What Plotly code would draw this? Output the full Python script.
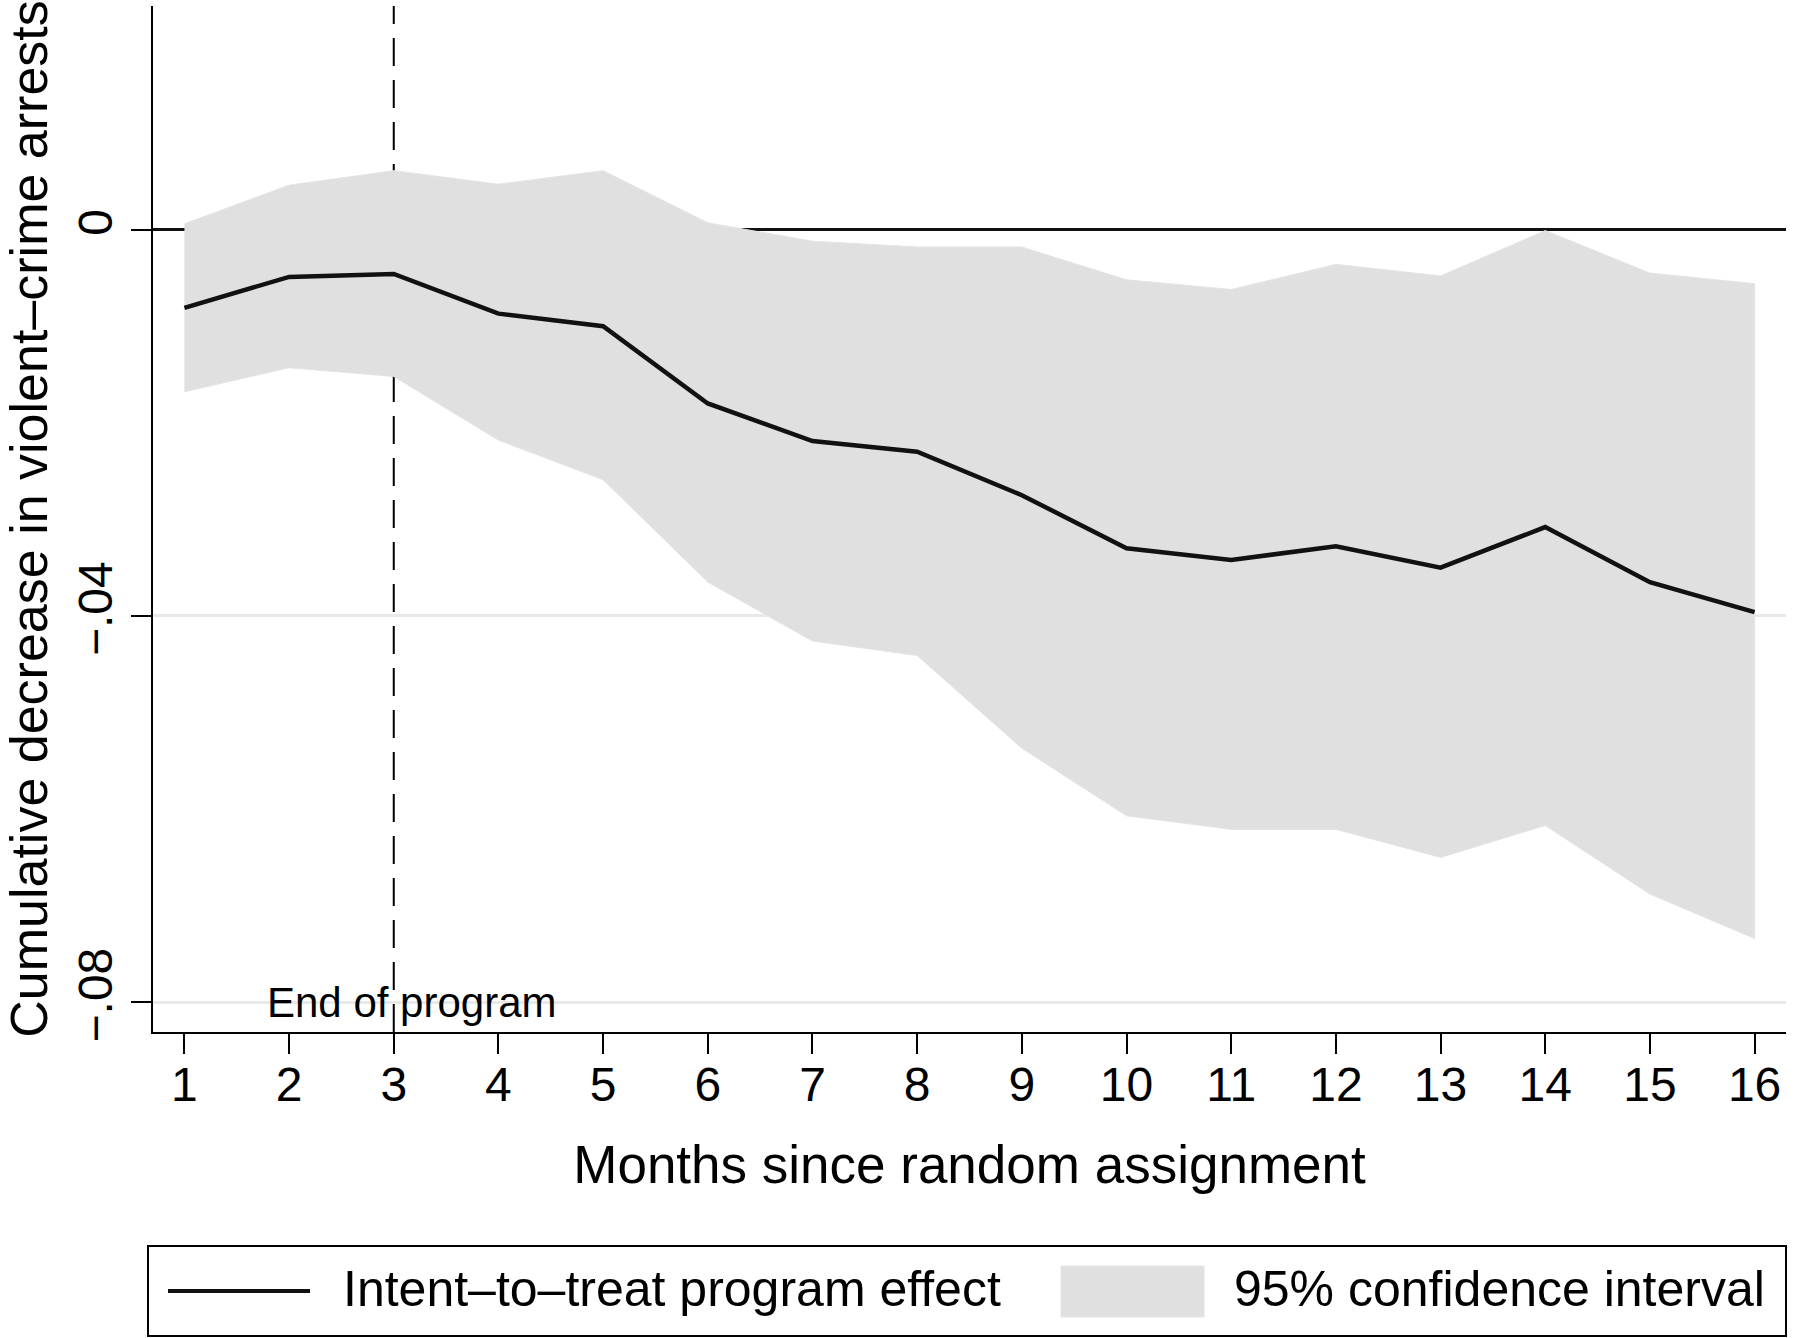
import plotly.graph_objects as go

months = list(range(1, 17))
effect = [-0.0081, -0.0049, -0.0046, -0.0087, -0.0100, -0.0180, -0.0219, -0.0230,
          -0.0275, -0.0330, -0.0342, -0.0328, -0.0350, -0.0308, -0.0365, -0.0396]
ci_upper = [0.0006, 0.0046, 0.0061, 0.0047, 0.0061, 0.0007, -0.0012, -0.0018,
            -0.0018, -0.0052, -0.0062, -0.0036, -0.0048, -0.0001, -0.0045, -0.0056]
ci_lower = [-0.0168, -0.0143, -0.0152, -0.0218, -0.0259, -0.0365, -0.0426, -0.0441,
            -0.0537, -0.0607, -0.0621, -0.0621, -0.0650, -0.0617, -0.0688, -0.0734]
y_tickvals = [0, -0.04, -0.08]
y_ticktext = ["0", "\u2212.04", "\u2212.08"]
program_end_month = 3

FONT = "Liberation Sans, Arial, Helvetica, sans-serif"
FILL = "#e0e0e0"

fig = go.Figure()
fig.add_trace(go.Scatter(
    x=months + months[::-1],
    y=ci_upper + ci_lower[::-1],
    fill="toself", fillcolor=FILL,
    line=dict(color="#e4e4e4", width=1),
    mode="lines", name="95% confidence interval", hoverinfo="skip",
))
fig.add_trace(go.Scatter(
    x=months, y=effect, mode="lines",
    line=dict(color="#111111", width=4.5),
    name="Intent\u2013to\u2013treat program effect",
))

# dashed vertical line at end of program (under traces)
fig.add_shape(type="line", xref="x", yref="paper", x0=program_end_month, x1=program_end_month,
              y0=0, y1=1, layer="below", line=dict(color="black", width=2, dash="28px,14px"))

fig.add_annotation(x=1.766, y=-0.08, xref="x", yref="y", text="End of program",
                   showarrow=False, xanchor="left", yanchor="middle",
                   font=dict(family=FONT, size=42, color="black"))

# manual legend (paper coords)
L, R, T, B = 153, 1786, 6, 1032
def px(xp):
    return (xp - L) / (R - L)
def py(yp):
    return (B - yp) / (B - T)

fig.add_shape(type="rect", xref="paper", yref="paper", x0=px(148), x1=px(1786),
              y0=py(1336), y1=py(1246), line=dict(color="black", width=2), fillcolor="white")
fig.add_shape(type="line", xref="paper", yref="paper", x0=px(168), x1=px(310),
              y0=py(1291), y1=py(1291), line=dict(color="#111111", width=4))
fig.add_annotation(x=px(341), y=py(1289), xref="paper", yref="paper",
                   text="Intent\u2013to\u2013treat program effect", showarrow=False,
                   xanchor="left", yanchor="middle", font=dict(family=FONT, size=50, color="black"))
fig.add_shape(type="rect", xref="paper", yref="paper", x0=px(1061), x1=px(1204),
              y0=py(1317), y1=py(1266), line=dict(color="#e4e4e4", width=1), fillcolor=FILL)
fig.add_annotation(x=px(1232), y=py(1289), xref="paper", yref="paper",
                   text="95% confidence interval", showarrow=False,
                   xanchor="left", yanchor="middle", font=dict(family=FONT, size=50, color="black"))

fig.update_layout(
    width=1800, height=1338,
    margin=dict(l=L, r=1800 - R, t=T, b=1338 - B, autoexpand=False),
    paper_bgcolor="white", plot_bgcolor="white",
    showlegend=False,
    font=dict(family=FONT, color="black"),
)
fig.update_xaxes(
    range=[0.7, 16.3], tickmode="array", tickvals=months,
    ticks="outside", ticklen=20, tickwidth=2, tickcolor="black",
    showline=True, linecolor="black", linewidth=2,
    showgrid=False, zeroline=False,
    ticklabelstandoff=-11,
    tickfont=dict(family=FONT, size=48, color="black"),
    title=dict(text="Months since random assignment", standoff=36,
               font=dict(family=FONT, size=53, color="black")),
)
fig.update_yaxes(
    range=[-0.08308, 0.02315], tickmode="array", tickvals=y_tickvals, ticktext=y_ticktext,
    tickangle=-90,
    ticks="outside", ticklen=20, tickwidth=2, tickcolor="black",
    showline=True, linecolor="black", linewidth=2,
    showgrid=True, gridcolor="#e9e9e9", gridwidth=3,
    zeroline=True, zerolinecolor="#111111", zerolinewidth=2.5,
    tickfont=dict(family=FONT, size=48, color="black"),
    title=dict(text="Cumulative decrease in violent\u2013crime arrests", standoff=28,
               font=dict(family=FONT, size=52, color="black")),
)

fig.write_html("out.html")
